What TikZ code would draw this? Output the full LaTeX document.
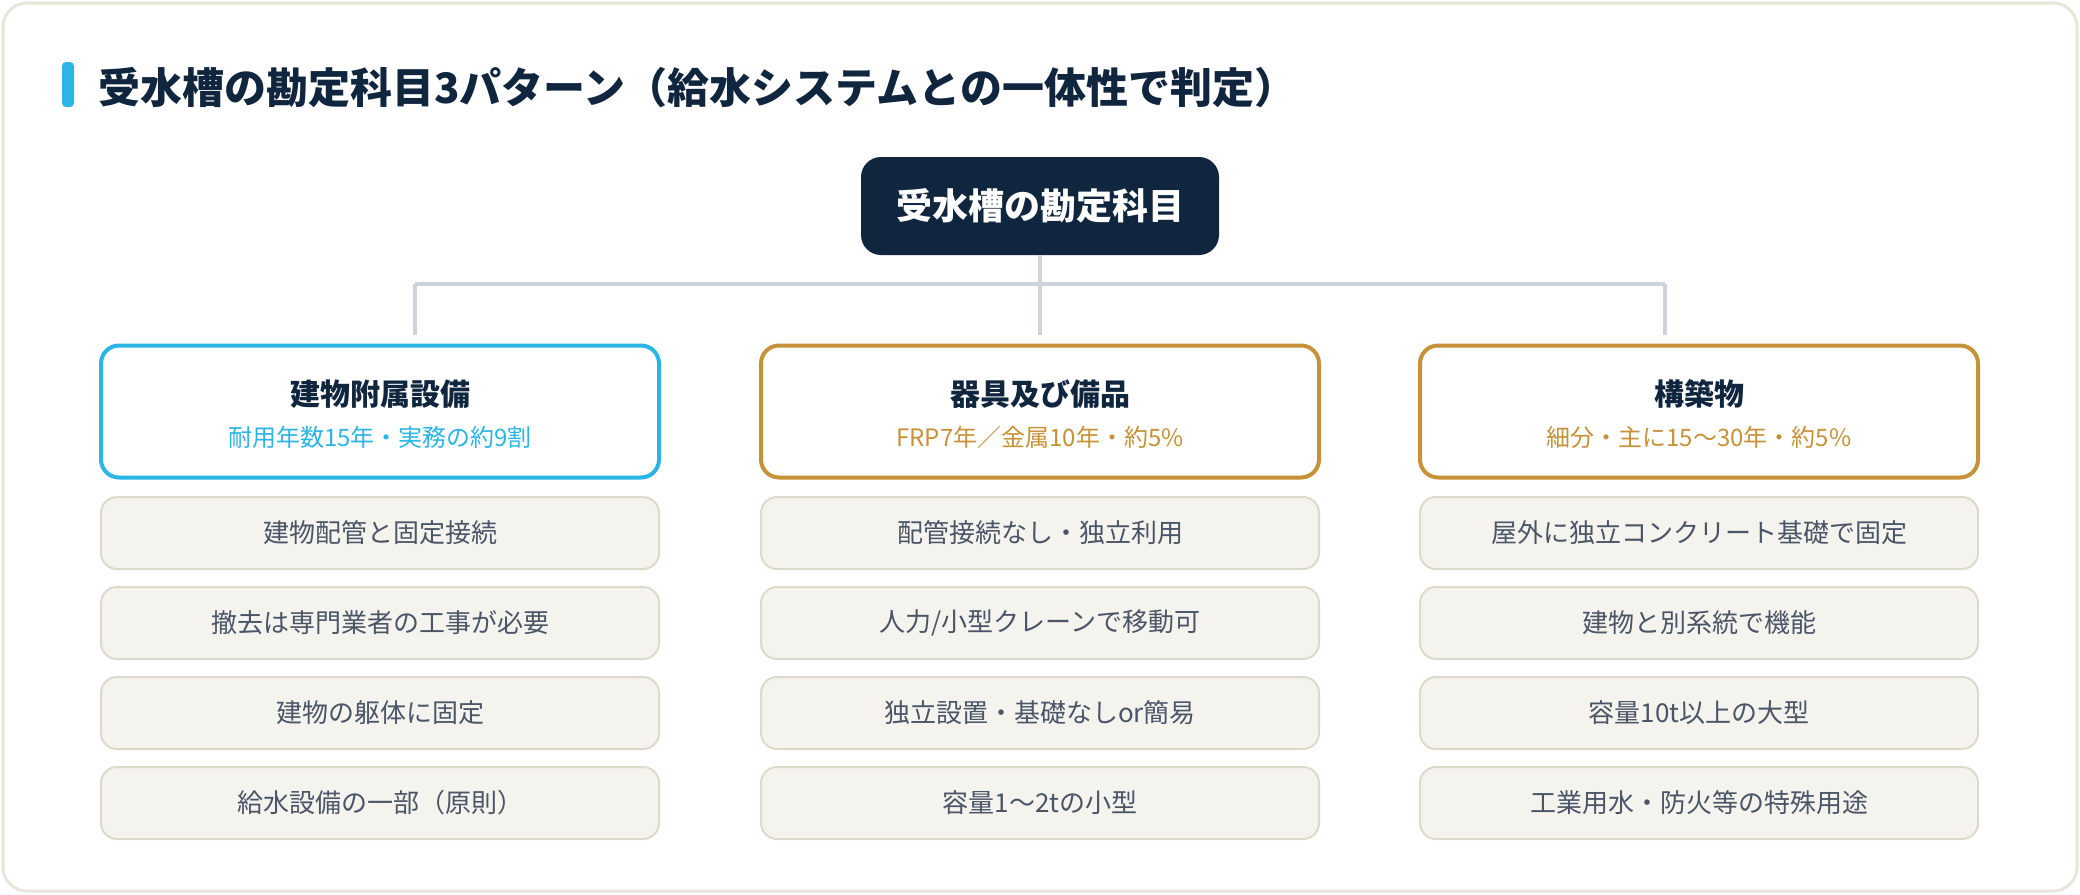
\documentclass[tikz,border=0pt]{standalone}
\usepackage{fontspec}
\setmainfont{Noto Sans CJK JP}
\usetikzlibrary{calc}
\definecolor{navy}{HTML}{10263F}
\definecolor{cyanc}{HTML}{2BB5E6}
\definecolor{goldc}{HTML}{C79237}
\definecolor{connc}{HTML}{CDD3DC}
\definecolor{itemfill}{HTML}{F5F3EE}
\definecolor{itemline}{HTML}{DEDACB}
\definecolor{itemtext}{HTML}{4A5568}
\definecolor{cardline}{HTML}{E8E5DA}
\tikzset{
  px/.style={x=0.5pt,y=-0.5pt},
  rootbox/.style={draw=none,fill=navy,rounded corners=10pt,minimum width=179pt,minimum height=49pt,inner sep=0pt,text=white,font=\fontsize{18}{21}\selectfont\bfseries},
  catbox/.style={draw=#1,line width=2pt,fill=white,rounded corners=9pt,minimum width=279pt,minimum height=66pt,inner sep=0pt},
  cattitle/.style={inner sep=0pt,text=navy,font=\fontsize{15}{18}\selectfont\bfseries},
  catsub/.style={inner sep=0pt,text=#1,font=\fontsize{12}{14}\selectfont},
  itembox/.style={draw=itemline,line width=1pt,fill=itemfill,rounded corners=8pt,minimum width=279pt,minimum height=36pt,inner sep=0pt,text=itemtext,font=\fontsize{13}{15}\selectfont},
  conn/.style={draw=connc,line width=2pt},
}
\begin{document}
\begin{tikzpicture}[px]
\useasboundingbox (0,0) rectangle (2080,894);
\fill[white] (0,0) rectangle (2080,894);
\draw[cardline,line width=1.5pt,fill=white,rounded corners=12pt] (3,3) rectangle (2077,891);
% title
\fill[cyanc,rounded corners=2pt] (62,62) rectangle (74,107);
\node[anchor=west,inner sep=0pt,text=navy,font=\fontsize{21}{25}\selectfont\bfseries] (title) at (98,88) {受水槽の勘定科目3パターン（給水システムとの一体性で判定）};
% root
\node[rootbox] (root) at (1040,206) {受水槽の勘定科目};
% connectors
\coordinate (jc) at (1040,284);
\coordinate (jl) at (415,284);
\coordinate (jr) at (1665,284);
\coordinate (dl) at (415,335);
\coordinate (dc) at (1040,335);
\coordinate (dr) at (1665,335);
\draw[conn] (root.south) -- (dc);
\draw[conn] (jl) -- (jr);
\draw[conn] (jl) -- (dl);
\draw[conn] (jr) -- (dr);
% categories
\node[catbox=cyanc] (cat1) at (380,411.5) {};
\node[catbox=goldc] (cat2) at (1040,411.5) {};
\node[catbox=goldc] (cat3) at (1699,411.5) {};
\node[cattitle] (cat1t) at (380,394) {建物附属設備};
\node[catsub=cyanc] (cat1s) at (380,437) {耐用年数15年・実務の約9割};
\node[cattitle] (cat2t) at (1040,394) {器具及び備品};
\node[catsub=goldc] (cat2s) at (1040,437) {FRP7年／金属10年・約5\%};
\node[cattitle] (cat3t) at (1699,394) {構築物};
\node[catsub=goldc] (cat3s) at (1699,437) {細分・主に15〜30年・約5\%};
% items
\node[itembox] (a1) at (380,533) {建物配管と固定接続};
\node[itembox] (a2) at (380,623) {撤去は専門業者の工事が必要};
\node[itembox] (a3) at (380,713) {建物の躯体に固定};
\node[itembox] (a4) at (380,803) {給水設備の一部（原則）};
\node[itembox] (b1) at (1040,533) {配管接続なし・独立利用};
\node[itembox] (b2) at (1040,623) {人力/小型クレーンで移動可};
\node[itembox] (b3) at (1040,713) {独立設置・基礎なしor簡易};
\node[itembox] (b4) at (1040,803) {容量1〜2tの小型};
\node[itembox] (c1) at (1699,533) {屋外に独立コンクリート基礎で固定};
\node[itembox] (c2) at (1699,623) {建物と別系統で機能};
\node[itembox] (c3) at (1699,713) {容量10t以上の大型};
\node[itembox] (c4) at (1699,803) {工業用水・防火等の特殊用途};
\end{tikzpicture}
\end{document}
